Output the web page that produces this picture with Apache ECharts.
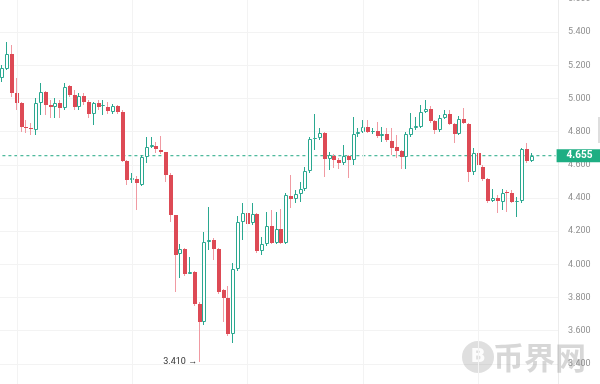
<!DOCTYPE html>
<html><head><meta charset="utf-8">
<script src="https://cdn.jsdelivr.net/npm/echarts/dist/echarts.min.js"></script>
<style>html,body{margin:0;padding:0;background:#fff}#c{width:600px;height:384px}</style>
</head><body><div id="c"></div>
<script>
const opens = [5.123,5.177,5.267,5.033,4.972,4.828,4.822,4.810,4.972,5.039,
4.960,4.948,4.972,4.942,5.075,5.020,4.948,5.014,4.978,4.906,
4.972,4.954,4.948,4.918,4.954,4.918,4.623,4.508,4.514,4.478,
4.647,4.707,4.713,4.689,4.677,4.539,4.298,4.063,4.093,3.942,
3.954,3.761,3.653,4.135,4.147,4.093,3.846,3.798,3.581,3.972,
4.255,4.310,4.249,4.304,4.081,4.123,4.231,4.129,4.213,4.129,
4.412,4.394,4.424,4.454,4.563,4.755,4.761,4.792,4.635,4.653,
4.629,4.611,4.653,4.629,4.786,4.798,4.828,4.798,4.804,4.773,
4.786,4.743,4.707,4.683,4.647,4.780,4.822,4.828,4.918,4.936,
4.864,4.810,4.882,4.906,4.846,4.786,4.876,4.846,4.557,4.671,
4.587,4.514,4.382,4.400,4.376,4.436,4.430,4.376,4.382,4.695,
4.623];
const closes = [5.183,5.267,5.033,4.972,4.828,4.822,4.816,4.972,5.039,4.960,
4.948,4.972,4.942,5.069,5.020,4.948,5.014,4.978,4.906,4.972,
4.948,4.960,4.924,4.954,4.918,4.623,4.508,4.520,4.490,4.647,
4.707,4.719,4.695,4.677,4.539,4.298,4.057,4.093,3.942,3.954,
3.761,3.653,4.135,4.147,4.093,3.834,3.798,3.581,3.972,4.255,
4.310,4.243,4.304,4.081,4.123,4.231,4.129,4.213,4.129,4.418,
4.394,4.424,4.454,4.563,4.755,4.761,4.792,4.635,4.659,4.629,
4.611,4.653,4.629,4.786,4.798,4.828,4.798,4.804,4.773,4.786,
4.749,4.701,4.683,4.647,4.786,4.822,4.834,4.918,4.936,4.864,
4.810,4.882,4.906,4.846,4.786,4.876,4.852,4.557,4.671,4.599,
4.514,4.382,4.400,4.382,4.430,4.430,4.376,4.382,4.695,4.623,
4.655];
const highs = [5.200,5.340,5.322,5.123,4.980,4.870,4.852,5.002,5.093,5.045,
4.990,5.002,4.990,5.093,5.081,5.050,5.033,5.033,4.990,4.980,
4.990,4.990,4.978,4.966,4.960,4.930,4.630,4.550,4.530,4.660,
4.767,4.767,4.737,4.773,4.680,4.550,4.300,4.123,4.100,4.045,
3.960,3.770,4.195,4.346,4.160,4.100,3.850,3.870,4.008,4.292,
4.370,4.520,4.370,4.310,4.165,4.316,4.328,4.316,4.334,4.430,
4.539,4.450,4.496,4.587,4.767,4.906,4.822,4.800,4.677,4.665,
4.640,4.719,4.660,4.888,4.822,4.870,4.870,4.820,4.858,4.828,
4.822,4.822,4.780,4.690,4.798,4.912,4.888,4.960,4.990,4.954,
4.870,4.900,4.930,4.930,4.850,4.894,4.942,4.850,4.701,4.695,
4.600,4.520,4.454,4.418,4.454,4.448,4.448,4.406,4.701,4.731,
4.671];
const lows = [5.100,5.170,5.008,4.930,4.798,4.792,4.780,4.780,4.900,4.900,
4.882,4.882,4.882,4.930,5.008,4.930,4.930,4.960,4.882,4.840,
4.930,4.900,4.906,4.906,4.906,4.620,4.478,4.490,4.328,4.470,
4.611,4.700,4.671,4.665,4.496,4.255,3.834,3.918,3.930,3.940,
3.750,3.410,3.635,4.087,4.027,3.820,3.653,3.570,3.527,3.960,
4.147,4.195,4.240,4.070,4.057,4.110,4.120,4.120,4.120,4.120,
4.340,4.370,4.376,4.440,4.550,4.689,4.750,4.527,4.569,4.580,
4.575,4.600,4.520,4.600,4.770,4.790,4.790,4.785,4.760,4.737,
4.740,4.659,4.641,4.575,4.575,4.770,4.810,4.820,4.910,4.855,
4.786,4.800,4.875,4.840,4.731,4.780,4.845,4.496,4.539,4.569,
4.500,4.370,4.376,4.310,4.328,4.316,4.370,4.286,4.370,4.610,
4.615];
const totalSlots = 116;
const categories = Array.from({length: totalSlots}, (_, i) => String(i + 1));
const yMin = 3.2, yMax = 5.6, yStep = 0.2;
const lastPrice = 4.655;
const lowIndex = 41, lowValue = 3.410, lowText = '3.410 →';
const vGridIndices = [3, 27, 51, 75, 99];
const watermarkText = '币界网';

const GREEN = '#2aa890';
const RED = '#dd4a55';
const RED_WICK = '#f09aa2';
const PRICE_GREEN = '#1eae83';

const candleData = opens.map((o, i) => [i, o, closes[i], lows[i], highs[i]]);
const priceLineData = [[categories[0], lastPrice], [categories[totalSlots - 1], lastPrice]];

const chart = echarts.init(document.getElementById('c'), null, {renderer: 'canvas'});
chart.setOption({
  animation: false,
  backgroundColor: '#ffffff',
  grid: {left: 0, right: 42, top: -1, bottom: -13, containLabel: false, outerBoundsMode: 'none'},
  xAxis: {
    type: 'category', data: categories, boundaryGap: true,
    axisLine: {show: false}, axisTick: {show: false}, axisLabel: {show: false},
    splitLine: {show: false}
  },
  yAxis: {
    type: 'value', position: 'right', min: yMin, max: yMax, interval: yStep,
    axisLine: {show: true, lineStyle: {color: '#ececec'}},
    axisTick: {show: false},
    axisLabel: {formatter: v => v.toFixed(3), color: '#8f8f8f', fontSize: 9, margin: 10, fontFamily: 'Roboto'},
    splitLine: {lineStyle: {color: '#f3f3f3', width: 1}}
  },
  graphic: [
    {type: 'circle', shape: {cx: 478, cy: 357, r: 16}, style: {fill: 'rgba(150,150,150,0.3)'}, z: 1},
    {type: 'text', x: 478, y: 357, style: {text: 'B', fill: 'rgba(255,255,255,0.9)', font: 'bold 20px "DejaVu Sans"', align: 'center', verticalAlign: 'middle'}, z: 1},
    {type: 'text', x: 493, y: 357, style: {text: watermarkText, fill: 'rgba(140,140,140,0.35)', font: 'bold 31px "Noto Sans CJK SC"', verticalAlign: 'middle'}, z: 1},
    {type: 'rect', shape: {x: 598, y: 117, width: 2, height: 26}, style: {fill: '#dedede'}, z: 1}
  ],
  series: [
    {
      type: 'line', data: [], silent: true, z: 0,
      markLine: {
        silent: true, symbol: ['none', 'none'], label: {show: false},
        lineStyle: {color: '#f3f3f3', type: 'solid', width: 1},
        data: vGridIndices.map(i => ({xAxis: categories[i]}))
      }
    },
    {
      type: 'line', data: priceLineData, silent: true, z: 1,
      symbol: 'none', showSymbol: false,
      lineStyle: {color: '#22a884', type: [3, 3], width: 1},
      itemStyle: {color: '#22a884'},
      endLabel: {
        show: true, distance: 1,
        formatter: () => lastPrice.toFixed(3),
        backgroundColor: PRICE_GREEN, color: '#ffffff', fontWeight: 'bold', fontSize: 10,
        fontFamily: 'Roboto', padding: [2, 14, 1, 10]
      }
    },
    {
      type: 'custom',
      data: candleData,
      encode: {x: 0, y: [1, 2, 3, 4]},
      z: 2,
      renderItem: function (params, api) {
        const idx = api.value(0);
        const o = api.value(1), c = api.value(2), l = api.value(3), h = api.value(4);
        const po = api.coord([idx, o]), pc = api.coord([idx, c]);
        const ph = api.coord([idx, h]), pl = api.coord([idx, l]);
        const r = Math.round(po[0]);
        const up = c >= o;
        let top = Math.round(Math.min(po[1], pc[1]));
        let bot = Math.round(Math.max(po[1], pc[1]));
        if (bot - top < 1) bot = top + 1;
        const wx = r - 0.5;
        const wc = up ? GREEN : RED_WICK;
        const children = [
          {type: 'line', shape: {x1: wx, y1: Math.round(ph[1]), x2: wx, y2: top}, style: {stroke: wc, lineWidth: 1}},
          {type: 'line', shape: {x1: wx, y1: bot, x2: wx, y2: Math.round(pl[1])}, style: {stroke: wc, lineWidth: 1}}
        ];
        if (up) {
          children.push({type: 'rect', shape: {x: r - 1.5, y: top + 0.5, width: 3, height: Math.max(bot - top - 1, 0)},
            style: {fill: '#ffffff', stroke: GREEN, lineWidth: 1}});
        } else {
          children.push({type: 'rect', shape: {x: r - 2, y: top, width: 4, height: bot - top}, style: {fill: RED}});
        }
        return {type: 'group', children: children};
      },
      markPoint: {
        silent: true,
        symbol: 'circle', symbolSize: 1,
        itemStyle: {color: 'rgba(0,0,0,0)'},
        data: [{coord: [categories[lowIndex], lowValue]}],
        label: {show: true, position: 'left', distance: 2, formatter: () => lowText, color: '#333333', fontSize: 9, fontFamily: 'Roboto'}
      }
    }
  ]
});
</script>
</body></html>
